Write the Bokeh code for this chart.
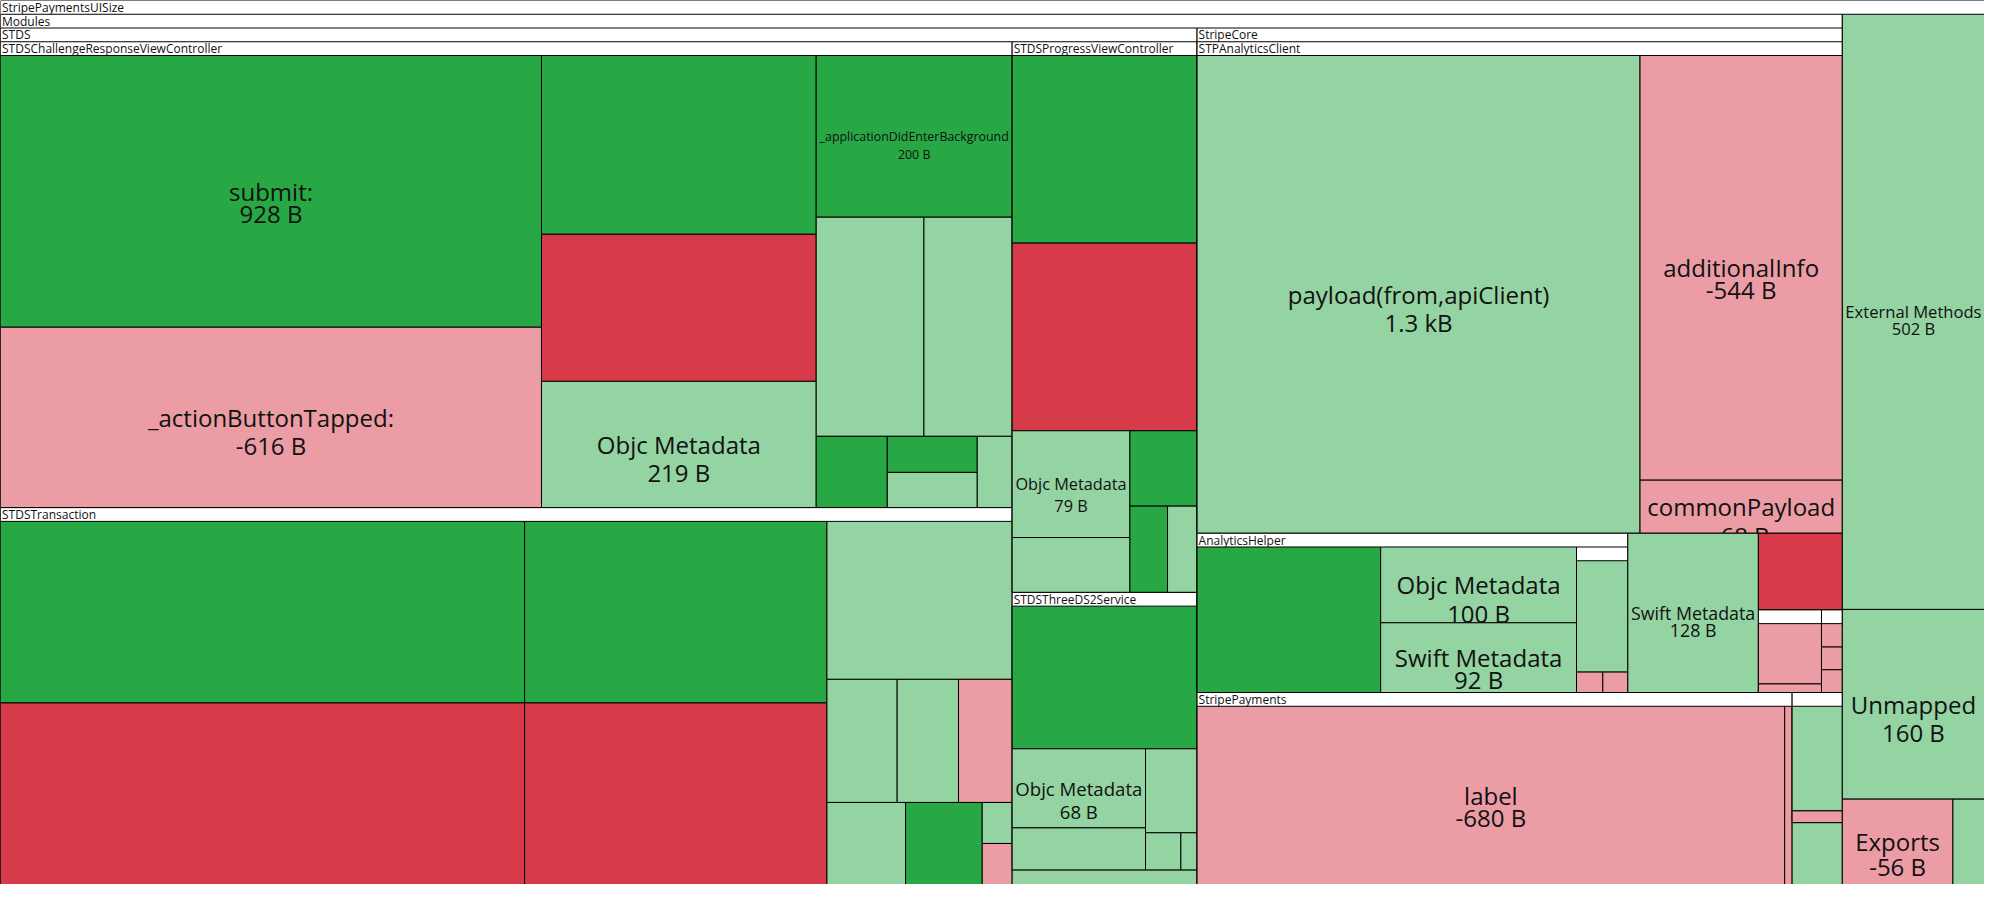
import math
from bokeh.plotting import figure
from bokeh.models import ColumnDataSource
from bokeh.embed import file_html
from bokeh.resources import INLINE
from bokeh.core.properties import value, field

# ---------------- data ----------------
# groups (internal nodes) of the size tree, in display order
group_ids = ["root", "modules", "stds", "crvc", "trans", "pvc", "tds",
             "core", "stpac", "ahelper", "ahelper_sub", "core_a", "core_b",
             "payments", "mod_x"]
group_parent = [None, "root", "modules", "stds", "stds", "stds", "stds",
                "modules", "core", "core", "ahelper", "core", "core",
                "modules", "modules"]
group_titles = ["StripePaymentsUISize", "Modules", "STDS",
                "STDSChallengeResponseViewController", "STDSTransaction",
                "STDSProgressViewController", "STDSThreeDS2Service",
                "StripeCore", "STPAnalyticsClient", "AnalyticsHelper",
                "", "", "", "StripePayments", ""]

# leaves per group: label, size delta in bytes, kind of change
root_names = ["External Methods", "Unmapped", "Exports", ""]
root_bytes = [502, 160, -56, 16]
root_kinds = ["grown", "grown", "shrunk", "grown"]

modules_names = [""]
modules_bytes = [18.7]
modules_kinds = ["grown"]

stds_names = [""]
stds_bytes = [16.3]
stds_kinds = ["grown"]

crvc_names = ["submit:", "_actionButtonTapped:", "", "", "Objc Metadata",
              "_applicationDidEnterBackground", "", "", "", "", "", ""]
crvc_bytes = [928, -616, 310, -255, 219, 200, 149, 122, 32, 20.5, 20, 15.7]
crvc_kinds = ["new", "shrunk", "new", "removed", "grown", "new", "grown",
              "grown", "new", "new", "grown", "grown"]

trans_names = [""] * 12
trans_bytes = [605, -605, 349, -349, 186, 55, 48, -42, 41, 40, 7.8, -7.8]
trans_kinds = ["new", "removed", "new", "removed", "grown", "grown", "grown",
               "shrunk", "grown", "new", "grown", "shrunk"]

pvc_names = ["", "", "Objc Metadata", "", "", "", ""]
pvc_bytes = [218, -218, 79, 40.6, 31.8, 20.4, 16]
pvc_kinds = ["new", "removed", "grown", "grown", "new", "new", "grown"]

tds_names = ["", "Objc Metadata", "", "", "", ""]
tds_bytes = [170, 68, 36.3, 27.9, 8.5, 3.9]
tds_kinds = ["new", "grown", "grown", "grown", "grown", "grown"]

core_names = ["Swift Metadata", ""]
core_bytes = [128, -39.6]
core_kinds = ["grown", "removed"]

stpac_names = ["payload(from,apiClient)", "additionalInfo", "commonPayload"]
stpac_bytes = [1340, -544, -68]
stpac_kinds = ["grown", "shrunk", "shrunk"]

ahelper_names = ["", "Objc Metadata", "Swift Metadata"]
ahelper_bytes = [180, 100, 92]
ahelper_kinds = ["new", "grown", "grown"]

ahelper_sub_names = ["", "", ""]
ahelper_sub_bytes = [42.5, -4, -3.8]
ahelper_sub_kinds = ["grown", "shrunk", "shrunk"]

core_a_names = ["", ""]
core_a_bytes = [-28.1, -4]
core_a_kinds = ["shrunk", "shrunk"]

core_b_names = ["", "", ""]
core_b_bytes = [-3.6, -3.5, -3.5]
core_b_kinds = ["shrunk", "shrunk", "shrunk"]

payments_names = ["label", ""]
payments_bytes = [-680, -8.6]
payments_kinds = ["shrunk", "shrunk"]

mod_x_names = ["", ""]
mod_x_bytes = [35.4, -4]
mod_x_kinds = ["grown", "shrunk"]

leaf_tables = {
    "root": (root_names, root_bytes, root_kinds),
    "modules": (modules_names, modules_bytes, modules_kinds),
    "stds": (stds_names, stds_bytes, stds_kinds),
    "crvc": (crvc_names, crvc_bytes, crvc_kinds),
    "trans": (trans_names, trans_bytes, trans_kinds),
    "pvc": (pvc_names, pvc_bytes, pvc_kinds),
    "tds": (tds_names, tds_bytes, tds_kinds),
    "core": (core_names, core_bytes, core_kinds),
    "stpac": (stpac_names, stpac_bytes, stpac_kinds),
    "ahelper": (ahelper_names, ahelper_bytes, ahelper_kinds),
    "ahelper_sub": (ahelper_sub_names, ahelper_sub_bytes, ahelper_sub_kinds),
    "core_a": (core_a_names, core_a_bytes, core_a_kinds),
    "core_b": (core_b_names, core_b_bytes, core_b_kinds),
    "payments": (payments_names, payments_bytes, payments_kinds),
    "mod_x": (mod_x_names, mod_x_bytes, mod_x_kinds),
}

COLORS = {"new": "#28a745", "grown": "#94d3a2",
          "removed": "#d73a49", "shrunk": "#eb9ca5"}

# ---------------- layout (squarified treemap) ----------------
LAYOUT_W, LAYOUT_H = 2000.0, 900.0
PX_W, PX_H = 1984, 884
PAD_TOP = 14.0
PHI = (1 + math.sqrt(5)) / 2


def build(gid):
    kids = []
    for j, g in enumerate(group_ids):
        if group_parent[j] == gid:
            kids.append(build(g))
    names, sizes, kinds = leaf_tables.get(gid, ([], [], []))
    for n, s, k in zip(names, sizes, kinds):
        kids.append({"name": n, "size": s, "kind": k, "value": abs(s),
                     "children": None})
    kids.sort(key=lambda c: -c["value"])
    return {"name": group_titles[group_ids.index(gid)],
            "value": sum(c["value"] for c in kids), "children": kids}


def squarify(children, x0, y0, x1, y1, total):
    n = len(children)
    i0 = 0
    val = total
    while i0 < n:
        dx, dy = x1 - x0, y1 - y0
        i1 = i0
        s = children[i1]["value"]
        i1 += 1
        mn = mx = s
        alpha = max(dy / dx, dx / dy) / (val * PHI)
        beta = s * s * alpha
        best = max(mx / beta, beta / mn)
        while i1 < n:
            v = children[i1]["value"]
            s2 = s + v
            mn2, mx2 = min(mn, v), max(mx, v)
            beta = s2 * s2 * alpha
            r = max(mx2 / beta, beta / mn2)
            if r > best:
                break
            s, mn, mx, best = s2, mn2, mx2, r
            i1 += 1
        row = children[i0:i1]
        if dx < dy:
            yb = y0 + dy * s / val
            xx = x0
            for c in row:
                w = dx * c["value"] / s
                c["rect"] = (xx, y0, xx + w, yb)
                xx += w
            y0 = yb
        else:
            xb = x0 + dx * s / val
            yy = y0
            for c in row:
                h = dy * c["value"] / s
                c["rect"] = (x0, yy, xb, yy + h)
                yy += h
            x0 = xb
        val -= s
        i0 = i1


def layout(node):
    x0, y0, x1, y1 = node["rect"]
    if node["children"]:
        squarify(node["children"], x0, y0 + PAD_TOP, x1, y1, node["value"])
        for c in node["children"]:
            layout(c)


root = build("root")
root["rect"] = (0.0, 0.0, LAYOUT_W, LAYOUT_H)
layout(root)

# ---------------- text helpers ----------------
EM = {' ': .26, '(': .296, ')': .296, ',': .245, '-': .322, '.': .266,
      ':': .266, '_': .45,
      'a': .556, 'b': .613, 'c': .48, 'd': .613, 'e': .561, 'f': .336,
      'g': .546, 'h': .614, 'i': .252, 'j': .252, 'k': .529, 'l': .252,
      'm': .93, 'n': .614, 'o': .602, 'p': .613, 'q': .613, 'r': .409,
      's': .477, 't': .353, 'u': .614, 'v': .5, 'w': .781, 'x': .52,
      'y': .5, 'z': .47,
      'A': .633, 'B': .647, 'C': .631, 'D': .729, 'E': .556, 'F': .516,
      'G': .725, 'H': .738, 'I': .279, 'J': .267, 'K': .613, 'L': .519,
      'M': .907, 'N': .76, 'O': .779, 'P': .602, 'Q': .779, 'R': .618,
      'S': .549, 'T': .553, 'U': .729, 'V': .58, 'W': .924, 'X': .577,
      'Y': .56, 'Z': .559}


def em_width(t):
    return sum(EM.get(ch, .572 if ch.isdigit() else .55) for ch in t)


def fmt_bytes(v):
    if abs(v) >= 1000:
        return "%.1f kB" % (v / 1000.0)
    return "%d B" % int(round(v))


SX = PX_W / LAYOUT_W

# ---------------- render in pre-order ----------------
layers = []


def push(kind, item):
    if not layers or layers[-1][0] != kind:
        layers.append((kind, []))
    layers[-1][1].append(item)


def visit(node):
    x0, y0, x1, y1 = node["rect"]
    if node["children"] is not None:
        push("rect", (x0, x1, y0, y1, "#ffffff"))
        t = node["name"]
        if t and em_width(t) * 12 + 3 <= (x1 - x0) * SX:
            push("htext", (x0 + 1.5, y0 + PAD_TOP / 2, t, "12px"))
        for c in node["children"]:
            visit(c)
    else:
        push("rect", (x0, x1, y0, y1, COLORS[node["kind"]]))
        t = node["name"]
        if t:
            w = (x1 - x0) * SX
            fs = min(24.0, (w - 6) / em_width(t))
            cx, cy = (x0 + x1) / 2, (y0 + y1) / 2
            desc = any(ch in "gjpqy_(),Q" for ch in t)
            sp = (0.925 * fs + 6.8) if desc else (0.7 * fs + 5.3)
            vy = cy + sp
            if y1 >= LAYOUT_H - 0.5:
                # keep the second line inside the bottom edge of the chart
                vy = min(vy, LAYOUT_H - 0.75 * fs)
            fss = "%.1fpx" % fs
            push("ltext", (cx, cy, t, fss))
            push("ltext", (cx, vy, fmt_bytes(node["size"]), fss))


visit(root)

p = figure(width=PX_W, height=PX_H, x_range=(0, LAYOUT_W),
           y_range=(LAYOUT_H, 0), x_axis_type=None, y_axis_type=None,
           toolbar_location=None, output_backend="svg", min_border=0)
p.outline_line_color = None
p.background_fill_color = "white"
p.border_fill_color = "white"

for kind, items in layers:
    if kind == "rect":
        src = ColumnDataSource(dict(l=[i[0] for i in items],
                                    r=[i[1] for i in items],
                                    t=[i[2] for i in items],
                                    b=[i[3] for i in items],
                                    c=[i[4] for i in items]))
        p.quad(left="l", right="r", top="t", bottom="b", fill_color="c",
               line_color="black", line_width=1, source=src)
    else:
        src = ColumnDataSource(dict(x=[i[0] for i in items],
                                    y=[i[1] for i in items],
                                    text=[i[2] for i in items],
                                    fs=[i[3] for i in items]))
        p.text(x="x", y="y", text="text", source=src,
               text_font=value("Open Sans"), text_font_size=field("fs"),
               text_align="left" if kind == "htext" else "center",
               text_baseline="middle", text_color="#111111")

open("out.html", "w").write(file_html(p, INLINE))
